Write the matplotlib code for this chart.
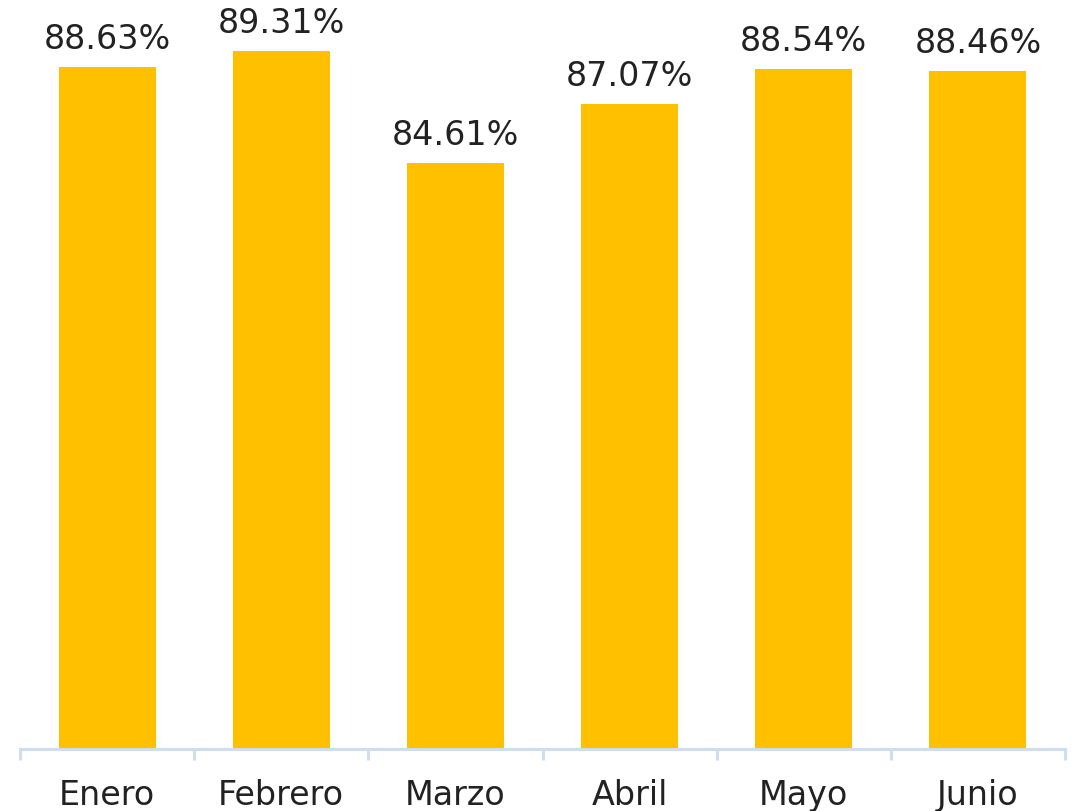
import matplotlib
matplotlib.use("Agg")
import matplotlib.pyplot as plt

categories = ["Enero", "Febrero", "Marzo", "Abril", "Mayo", "Junio"]
values = [88.63, 89.31, 84.61, 87.07, 88.54, 88.46]
labels = ["88.63%", "89.31%", "84.61%", "87.07%", "88.54%", "88.46%"]

W, H = 1073, 811
fig = plt.figure(figsize=(W / 100, H / 100), dpi=100)
base_px = 748.5
ax = fig.add_axes([20 / W, (H - base_px) / H, 1045 / W, base_px / H])
ymin = 60
ppp = 23.8
ax.set_ylim(ymin, ymin + base_px / ppp)
ax.set_xlim(-0.5, len(categories) - 0.5)

x = list(range(len(categories)))
bars = ax.bar(x, [v - ymin for v in values], bottom=ymin, width=0.557, color="#FFC000", zorder=2)
for xi, v, lab in zip(x, values, labels):
    ax.annotate(lab, (xi, v), xytext=(0, 13), textcoords="offset points",
                ha="center", va="baseline", fontsize=24, color="#222222", family="DejaVu Sans")

for s in ["top", "left", "right"]:
    ax.spines[s].set_visible(False)
ax.spines["bottom"].set_color("#CFDDEF")
ax.spines["bottom"].set_linewidth(2.2)
ax.set_yticks([])
ax.set_xticks([i - 0.5 for i in range(len(categories) + 1)])
ax.set_xticklabels([])
ax.set_xticks(x, minor=True)
ax.set_xticklabels(categories, minor=True, fontsize=24, color="#222222", family="DejaVu Sans")
ax.tick_params(axis="x", which="major", length=8, width=2.2, color="#CFDDEF", direction="out")
ax.tick_params(axis="x", which="minor", length=0, pad=22)
ax.patch.set_alpha(0)

fig.savefig("out.png", dpi=100)
